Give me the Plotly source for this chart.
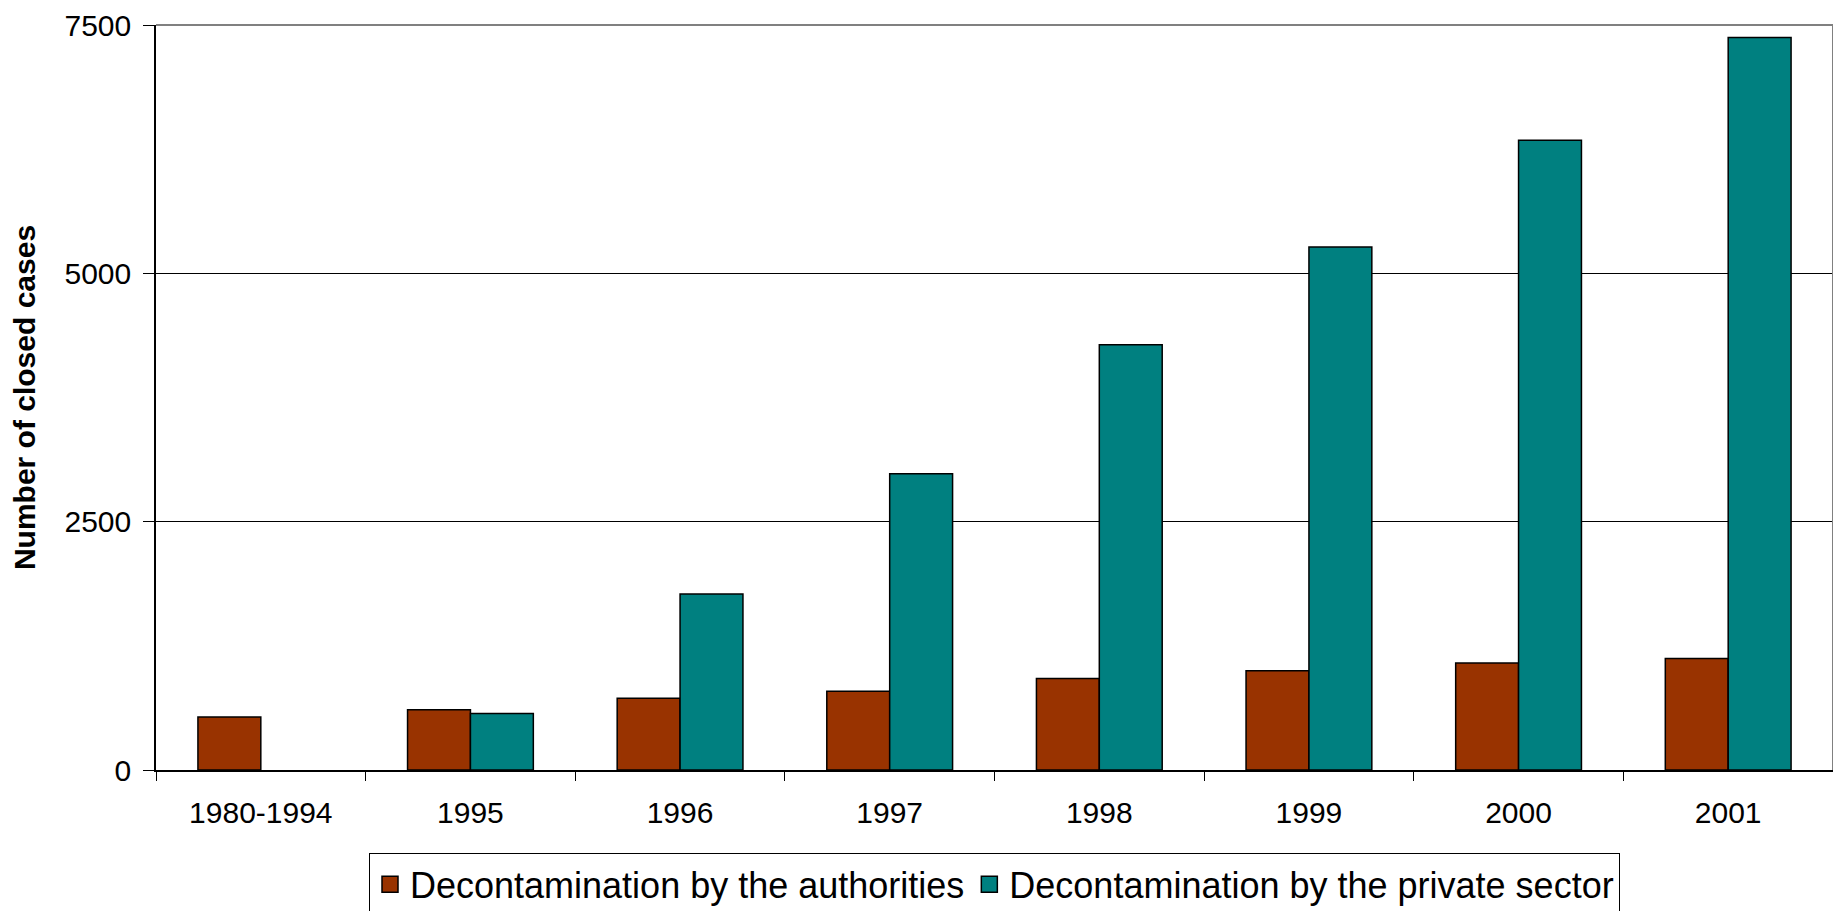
import plotly.graph_objects as go

categories = ["1980-1994", "1995", "1996", "1997", "1998", "1999", "2000", "2001"]
authorities = [533, 607, 723, 792, 920, 999, 1077, 1122]
private_sector = [None, 570, 1773, 2983, 4280, 5264, 6341, 7375]
y_ticks = [0, 2500, 5000, 7500]
series_names = ["Decontamination by the authorities", "Decontamination by the private sector"]
series_colors = ["#993300", "#008080"]

FONT = "Liberation Sans, Arial, sans-serif"

fig = go.Figure()
for name, vals, col in zip(series_names, [authorities, private_sector], series_colors):
    fig.add_trace(go.Bar(
        x=categories, y=vals, name=name, showlegend=False,
        marker=dict(color=col, line=dict(color="black", width=1.5)),
    ))
# legend entries with larger square swatches
for name, col in zip(series_names, series_colors):
    fig.add_trace(go.Scatter(
        x=[categories[0]], y=[None], name=name, mode="markers",
        marker=dict(symbol="square", size=22, color=col, line=dict(color="black", width=1.5)),
    ))

fig.update_layout(
    width=1833, height=903,
    margin=dict(l=148, r=8, t=17, b=141, autoexpand=False),
    paper_bgcolor="white", plot_bgcolor="white",
    barmode="group", bargap=0.4, bargroupgap=0,
    font=dict(family=FONT, color="black", size=30),
    showlegend=True,
    legend=dict(
        orientation="h", x=0.5, xanchor="center", y=-0.112, yanchor="top",
        bordercolor="black", borderwidth=1, bgcolor="white",
        font=dict(family=FONT, size=36, color="black"),
        traceorder="normal", itemwidth=30, tracegroupgap=0,
    ),
    xaxis=dict(
        showline=True, linecolor="black", linewidth=1.5,
        ticks="outside", tickson="boundaries", ticklen=9, tickcolor="black",
        showgrid=False, tickfont=dict(size=30),
        ticklabelstandoff=15,
        fixedrange=True,
    ),
    yaxis=dict(
        range=[0, 7500], tickvals=y_ticks, ticktext=[str(v) for v in y_ticks],
        showline=True, linecolor="black", linewidth=1.5,
        ticks="outside", ticklen=11, tickcolor="black",
        showgrid=True, gridcolor="black", gridwidth=1,
        zeroline=False, tickfont=dict(size=30),
        ticklabelstandoff=6, ticklabeloverflow="allow",
        title=dict(text="<b>Number of closed cases</b>", font=dict(size=30), standoff=22),
    ),
)

# gray frame on top and right of plot area
fig.add_shape(type="line", xref="paper", yref="paper", x0=0, x1=1, y0=1, y1=1,
              line=dict(color="#808080", width=2))
fig.add_shape(type="line", xref="paper", yref="paper", x0=1, x1=1, y0=0, y1=1,
              line=dict(color="#808080", width=2))

fig.write_html("out.html")
